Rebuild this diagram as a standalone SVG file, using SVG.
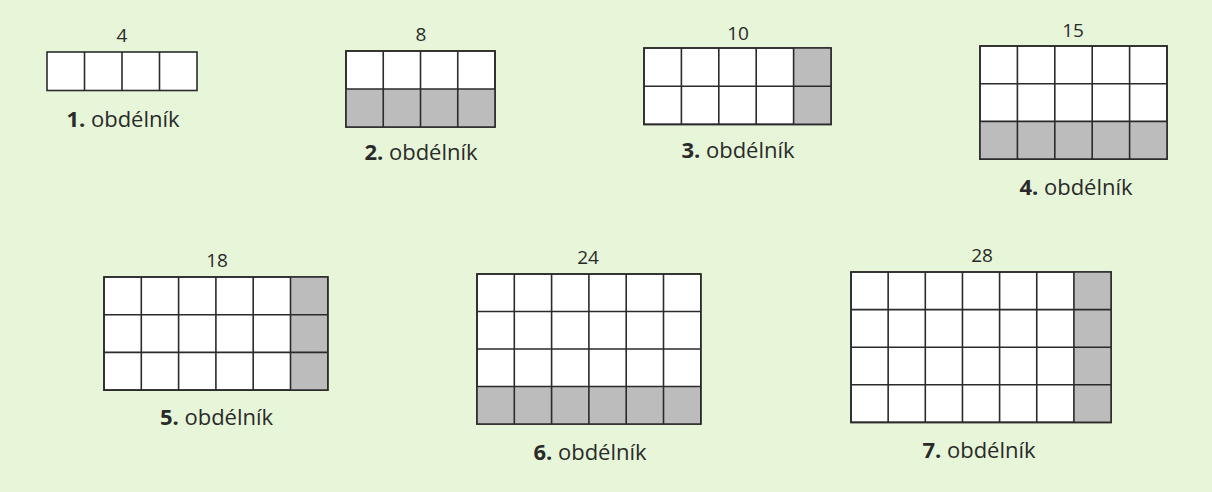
<svg xmlns="http://www.w3.org/2000/svg" width="1212" height="492" viewBox="0 0 1212 492">
<style>
.cell{fill:#ffffff;stroke:#2b2b2b;stroke-width:1.6}
.gray{fill:#bcbcbc;stroke:none}
.grid{fill:none;stroke:#2b2b2b;stroke-width:1.6}
.num{font-family:"Open Sans","Liberation Sans",sans-serif;font-size:19px;fill:#2a2a2a;text-anchor:middle}
.lbl{font-family:"Open Sans","Liberation Sans",sans-serif;font-size:22px;fill:#2a2a2a;text-anchor:middle}
.b{font-weight:bold}
</style>
<rect x="0" y="0" width="1212" height="492" fill="#e7f5d8"/>

<g id="rect1">
<rect class="cell" x="47" y="52" width="150" height="38.5"/>
<path class="grid" d="M84.5 52V90.5M122 52V90.5M159.5 52V90.5"/>
<text class="num" x="122" y="42">4</text>
<text class="lbl" x="123" y="127"><tspan class="b">1.</tspan> obdélník</text>
</g>

<g id="rect2">
<rect class="cell" x="346" y="51" width="149" height="76"/>
<rect class="gray" x="346" y="89" width="149" height="38"/>
<path class="grid" d="M346 51H495V127H346ZM383.25 51V127M420.5 51V127M457.75 51V127M346 89H495"/>
<text class="num" x="421" y="41">8</text>
<text class="lbl" x="421" y="160"><tspan class="b">2.</tspan> obdélník</text>
</g>

<g id="rect3">
<rect class="cell" x="644" y="48" width="187" height="76.4"/>
<rect class="gray" x="793.6" y="48" width="37.4" height="76.4"/>
<path class="grid" d="M644 48H831V124.4H644ZM681.4 48V124.4M718.8 48V124.4M756.2 48V124.4M793.6 48V124.4M644 86.2H831"/>
<text class="num" x="738" y="39.5">10</text>
<text class="lbl" x="738" y="158"><tspan class="b">3.</tspan> obdélník</text>
</g>

<g id="rect4">
<rect class="cell" x="980" y="46" width="187" height="113.1"/>
<rect class="gray" x="980" y="121.4" width="187" height="37.7"/>
<path class="grid" d="M980 46H1167V159.1H980ZM1017.4 46V159.1M1054.8 46V159.1M1092.2 46V159.1M1129.6 46V159.1M980 83.7H1167M980 121.4H1167"/>
<text class="num" x="1073" y="37">15</text>
<text class="lbl" x="1076" y="195"><tspan class="b">4.</tspan> obdélník</text>
</g>

<g id="rect5">
<rect class="cell" x="104" y="277" width="223.8" height="113.1"/>
<rect class="gray" x="290.5" y="277" width="37.3" height="113.1"/>
<path class="grid" d="M104 277H327.8V390.1H104ZM141.3 277V390.1M178.6 277V390.1M215.9 277V390.1M253.2 277V390.1M290.5 277V390.1M104 314.7H327.8M104 352.4H327.8"/>
<text class="num" x="217" y="267">18</text>
<text class="lbl" x="216.5" y="425"><tspan class="b">5.</tspan> obdélník</text>
</g>

<g id="rect6">
<rect class="cell" x="477" y="274" width="223.8" height="150"/>
<rect class="gray" x="477" y="386.5" width="223.8" height="37.5"/>
<path class="grid" d="M477 274H700.8V424H477ZM514.3 274V424M551.6 274V424M588.9 274V424M626.2 274V424M663.5 274V424M477 311.5H700.8M477 349H700.8M477 386.5H700.8"/>
<text class="num" x="588" y="264">24</text>
<text class="lbl" x="590" y="460"><tspan class="b">6.</tspan> obdélník</text>
</g>

<g id="rect7">
<rect class="cell" x="851" y="272" width="260.05" height="150.4"/>
<rect class="gray" x="1073.9" y="272" width="37.15" height="150.4"/>
<path class="grid" d="M851 272H1111.05V422.4H851ZM888.15 272V422.4M925.3 272V422.4M962.45 272V422.4M999.6 272V422.4M1036.75 272V422.4M1073.9 272V422.4M851 309.6H1111.05M851 347.2H1111.05M851 384.8H1111.05"/>
<text class="num" x="982" y="262">28</text>
<text class="lbl" x="979" y="457.5"><tspan class="b">7.</tspan> obdélník</text>
</g>
</svg>
